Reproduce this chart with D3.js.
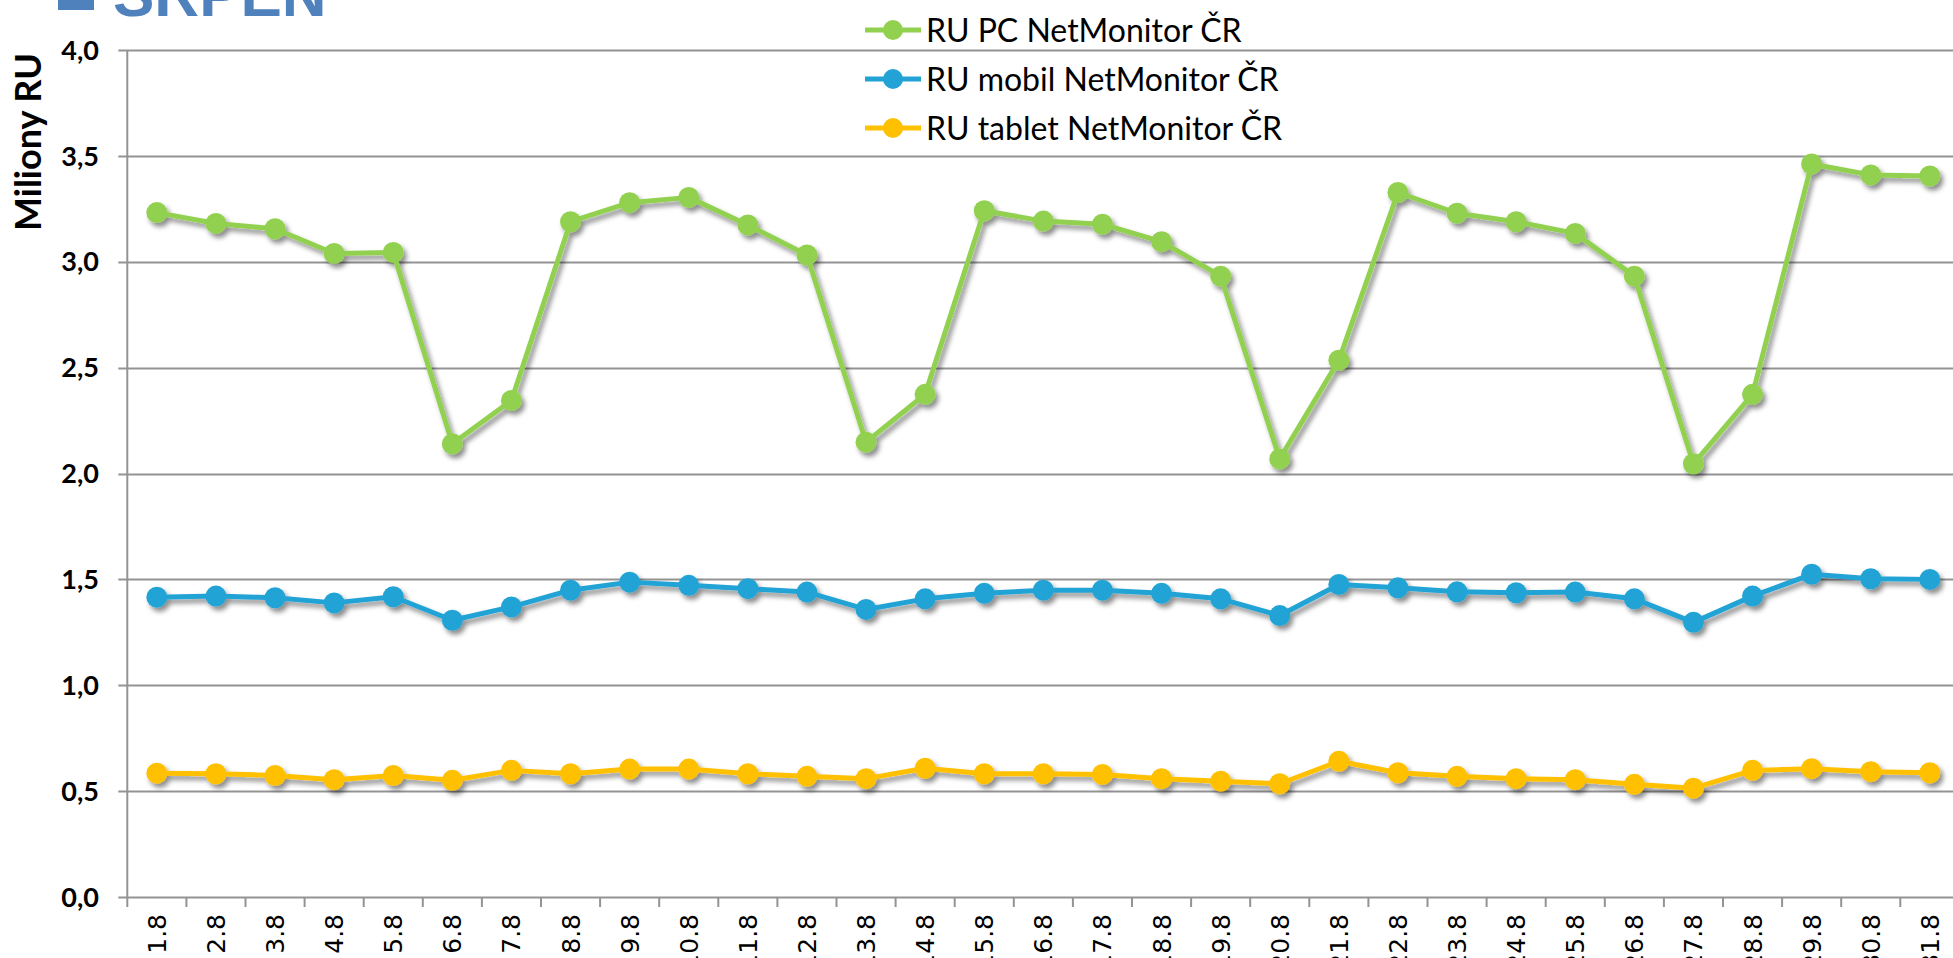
<!DOCTYPE html>
<html>
<head>
<meta charset="utf-8">
<script src="https://cdn.jsdelivr.net/npm/d3@7"></script>
<style>
  html, body { margin: 0; padding: 0; background: #fff; overflow: hidden; }
  svg { display: block; }
</style>
</head>
<body>
<svg id="chart" width="1953" height="958"></svg>
<script>
const categories = ["1.8","2.8","3.8","4.8","5.8","6.8","7.8","8.8","9.8","10.8","11.8","12.8","13.8","14.8","15.8","16.8","17.8","18.8","19.8","20.8","21.8","22.8","23.8","24.8","25.8","26.8","27.8","28.8","29.8","30.8","31.8"];

const pcValues = [3.232,3.181,3.156,3.039,3.044,2.140,2.345,3.189,3.279,3.304,3.174,3.032,2.148,2.374,3.241,3.192,3.177,3.095,2.932,2.069,2.535,3.327,3.229,3.189,3.134,2.932,2.046,2.374,3.462,3.410,3.405];

const mobilValues = [1.416,1.421,1.413,1.389,1.418,1.307,1.370,1.449,1.487,1.472,1.456,1.440,1.358,1.408,1.434,1.449,1.449,1.434,1.408,1.329,1.476,1.460,1.441,1.437,1.440,1.408,1.297,1.421,1.524,1.503,1.500];

const tabletValues = [0.585,0.582,0.574,0.554,0.574,0.551,0.598,0.582,0.604,0.604,0.582,0.570,0.559,0.608,0.582,0.582,0.579,0.559,0.547,0.535,0.641,0.587,0.570,0.559,0.554,0.532,0.514,0.598,0.606,0.592,0.587];

const seriesNames = ["RU PC NetMonitor ČR","RU mobil NetMonitor ČR","RU tablet NetMonitor ČR"];
const seriesColors = ["#92D050","#23A3D5","#FFC000"];
const yTicks = [0,0.5,1,1.5,2,2.5,3,3.5,4];
const titleText = "SRPEN";
const yAxisTitle = "Miliony RU";

const series = [pcValues, mobilValues, tabletValues].map((vals, i) => ({
  name: seriesNames[i], color: seriesColors[i], values: vals
}));

const svg = d3.select("#chart");
const W = 1953, H = 958;
const plotLeft = 127.3, band = 59.1;
const x = d3.scaleBand().domain(categories).range([plotLeft, plotLeft + band * categories.length]).paddingInner(0).paddingOuter(0);
const y = d3.scaleLinear().domain([0, 4]).range([897, 50]);
const cx = c => x(c) + x.bandwidth() / 2;

// shadow filter
const defs = svg.append("defs");
const f = defs.append("filter").attr("id", "shadow").attr("x", "-20%").attr("y", "-20%").attr("width", "140%").attr("height", "140%");
f.append("feDropShadow").attr("dx", 3).attr("dy", 4).attr("stdDeviation", 2.8)
  .attr("flood-color", "#000").attr("flood-opacity", 0.45);

// Title (cut at the top)
svg.append("rect").attr("x", 58).attr("y", -10).attr("width", 36).attr("height", 20).attr("fill", "#4F81BD");
svg.append("text").attr("x", 113).attr("y", 16)
  .attr("font-family", "Liberation Sans, Arial, sans-serif").attr("font-weight", "bold")
  .attr("font-size", 62).attr("fill", "#4F81BD").text(titleText);

// gridlines
const grid = svg.append("g");
grid.selectAll("line").data(yTicks).join("line")
  .attr("x1", plotLeft - 9).attr("x2", W + 10)
  .attr("y1", d => Math.round(y(d)) + 0.5).attr("y2", d => Math.round(y(d)) + 0.5)
  .attr("stroke", "#939393").attr("stroke-width", 2);

// y axis line
svg.append("line").attr("x1", plotLeft).attr("x2", plotLeft).attr("y1", y(4)).attr("y2", y(0))
  .attr("stroke", "#939393").attr("stroke-width", 2);

// x ticks at category boundaries
const boundaries = categories.map(c => x(c)).concat([x(categories[categories.length - 1]) + band]);
svg.append("g").selectAll("line").data(boundaries).join("line")
  .attr("x1", d => d).attr("x2", d => d).attr("y1", y(0)).attr("y2", y(0) + 10)
  .attr("stroke", "#939393").attr("stroke-width", 2);

// y tick labels
svg.append("g").selectAll("text").data(yTicks).join("text")
  .attr("x", 99).attr("y", d => y(d)).attr("dy", "0.36em")
  .attr("text-anchor", "end")
  .attr("font-family", "Lato, sans-serif").attr("font-weight", "bold").attr("font-size", 27)
  .attr("fill", "#000")
  .text(d => d3.format(".1f")(d).replace(".", ","));

// y axis title
svg.append("text").attr("transform", "translate(41,142) rotate(-90)")
  .attr("text-anchor", "middle")
  .attr("font-family", "Lato, sans-serif").attr("font-weight", "bold").attr("font-size", 36)
  .attr("fill", "#000").text(yAxisTitle);

// x labels
svg.append("g").selectAll("text").data(categories).join("text")
  .attr("transform", d => `translate(${cx(d)},914) rotate(-90)`)
  .attr("text-anchor", "end").attr("dy", "0.36em")
  .attr("font-family", "DejaVu Sans, sans-serif").attr("font-size", 25)
  .attr("fill", "#000").text(d => d);

// series
const line = d3.line().x((d, i) => cx(categories[i])).y(d => y(d));
const sg = svg.append("g").attr("filter", "url(#shadow)");
series.slice().reverse().forEach(s => {
  const g = sg.append("g");
  g.append("path").datum(s.values).attr("d", line)
    .attr("fill", "none").attr("stroke", s.color).attr("stroke-width", 5).attr("stroke-linejoin", "round");
  g.selectAll("circle").data(s.values).join("circle")
    .attr("cx", (d, i) => cx(categories[i])).attr("cy", d => y(d)).attr("r", 10.5)
    .attr("fill", s.color);
});

// legend
const legendY = [30, 79, 128];
const lg = svg.append("g");
series.forEach((s, i) => {
  const g = lg.append("g");
  g.append("line").attr("x1", 865).attr("x2", 921).attr("y1", legendY[i]).attr("y2", legendY[i])
    .attr("stroke", s.color).attr("stroke-width", 5);
  g.append("circle").attr("cx", 893).attr("cy", legendY[i]).attr("r", 10).attr("fill", s.color);
  g.append("text").attr("x", 926).attr("y", legendY[i]).attr("dy", "0.36em")
    .attr("font-family", "Lato, sans-serif").attr("font-size", 32).attr("fill", "#000")
    .text(s.name);
});
</script>
</body>
</html>
